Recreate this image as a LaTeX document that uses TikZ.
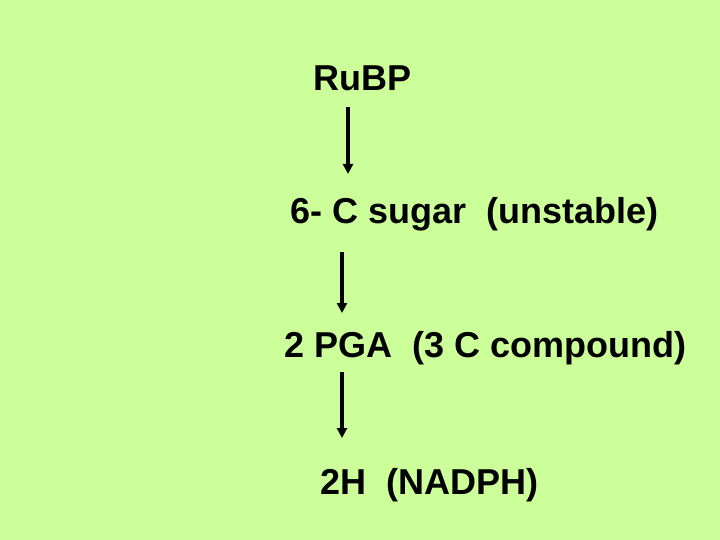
\documentclass[tikz,border=0pt]{standalone}
\usepackage{fontspec}
\setmainfont{Liberation Sans}
\usepackage{xcolor}
\usetikzlibrary{arrows.meta}
\definecolor{slide}{RGB}{204,255,153}
\tikzset{
  % node options
  compound/.style={anchor=base west,inner sep=0pt,font=\fontsize{36}{40}\selectfont\bfseries},
  % path options
  reaction/.style={-{Triangle[width=10pt,length=10pt]},line width=3.5pt},
}

\begin{document}
\begin{tikzpicture}[x=1pt,y=-1pt]
    \fill[slide] (0,0) rectangle (720,540);
    \useasboundingbox (0,0) rectangle (720,540);
    \node[compound] (rubp) at (313,91) {RuBP};
    \node[compound] (sugar) at (290,223) {6- C sugar \ (unstable)};
    \node[compound] (pga) at (284,357) {2 PGA \ (3 C compound)};
    \node[compound] (nadph) at (320,494) {2H \ (NADPH)};
    \coordinate (r1) at (348,107);
    \coordinate (r1end) at (348,174);
    \coordinate (r2) at (342,252);
    \coordinate (r2end) at (342,313);
    \coordinate (r3) at (342,372);
    \coordinate (r3end) at (342,438);
    \draw[reaction] (r1) to (r1end);
    \draw[reaction] (r2) to (r2end);
    \draw[reaction] (r3) to (r3end);
\end{tikzpicture}
\end{document}
